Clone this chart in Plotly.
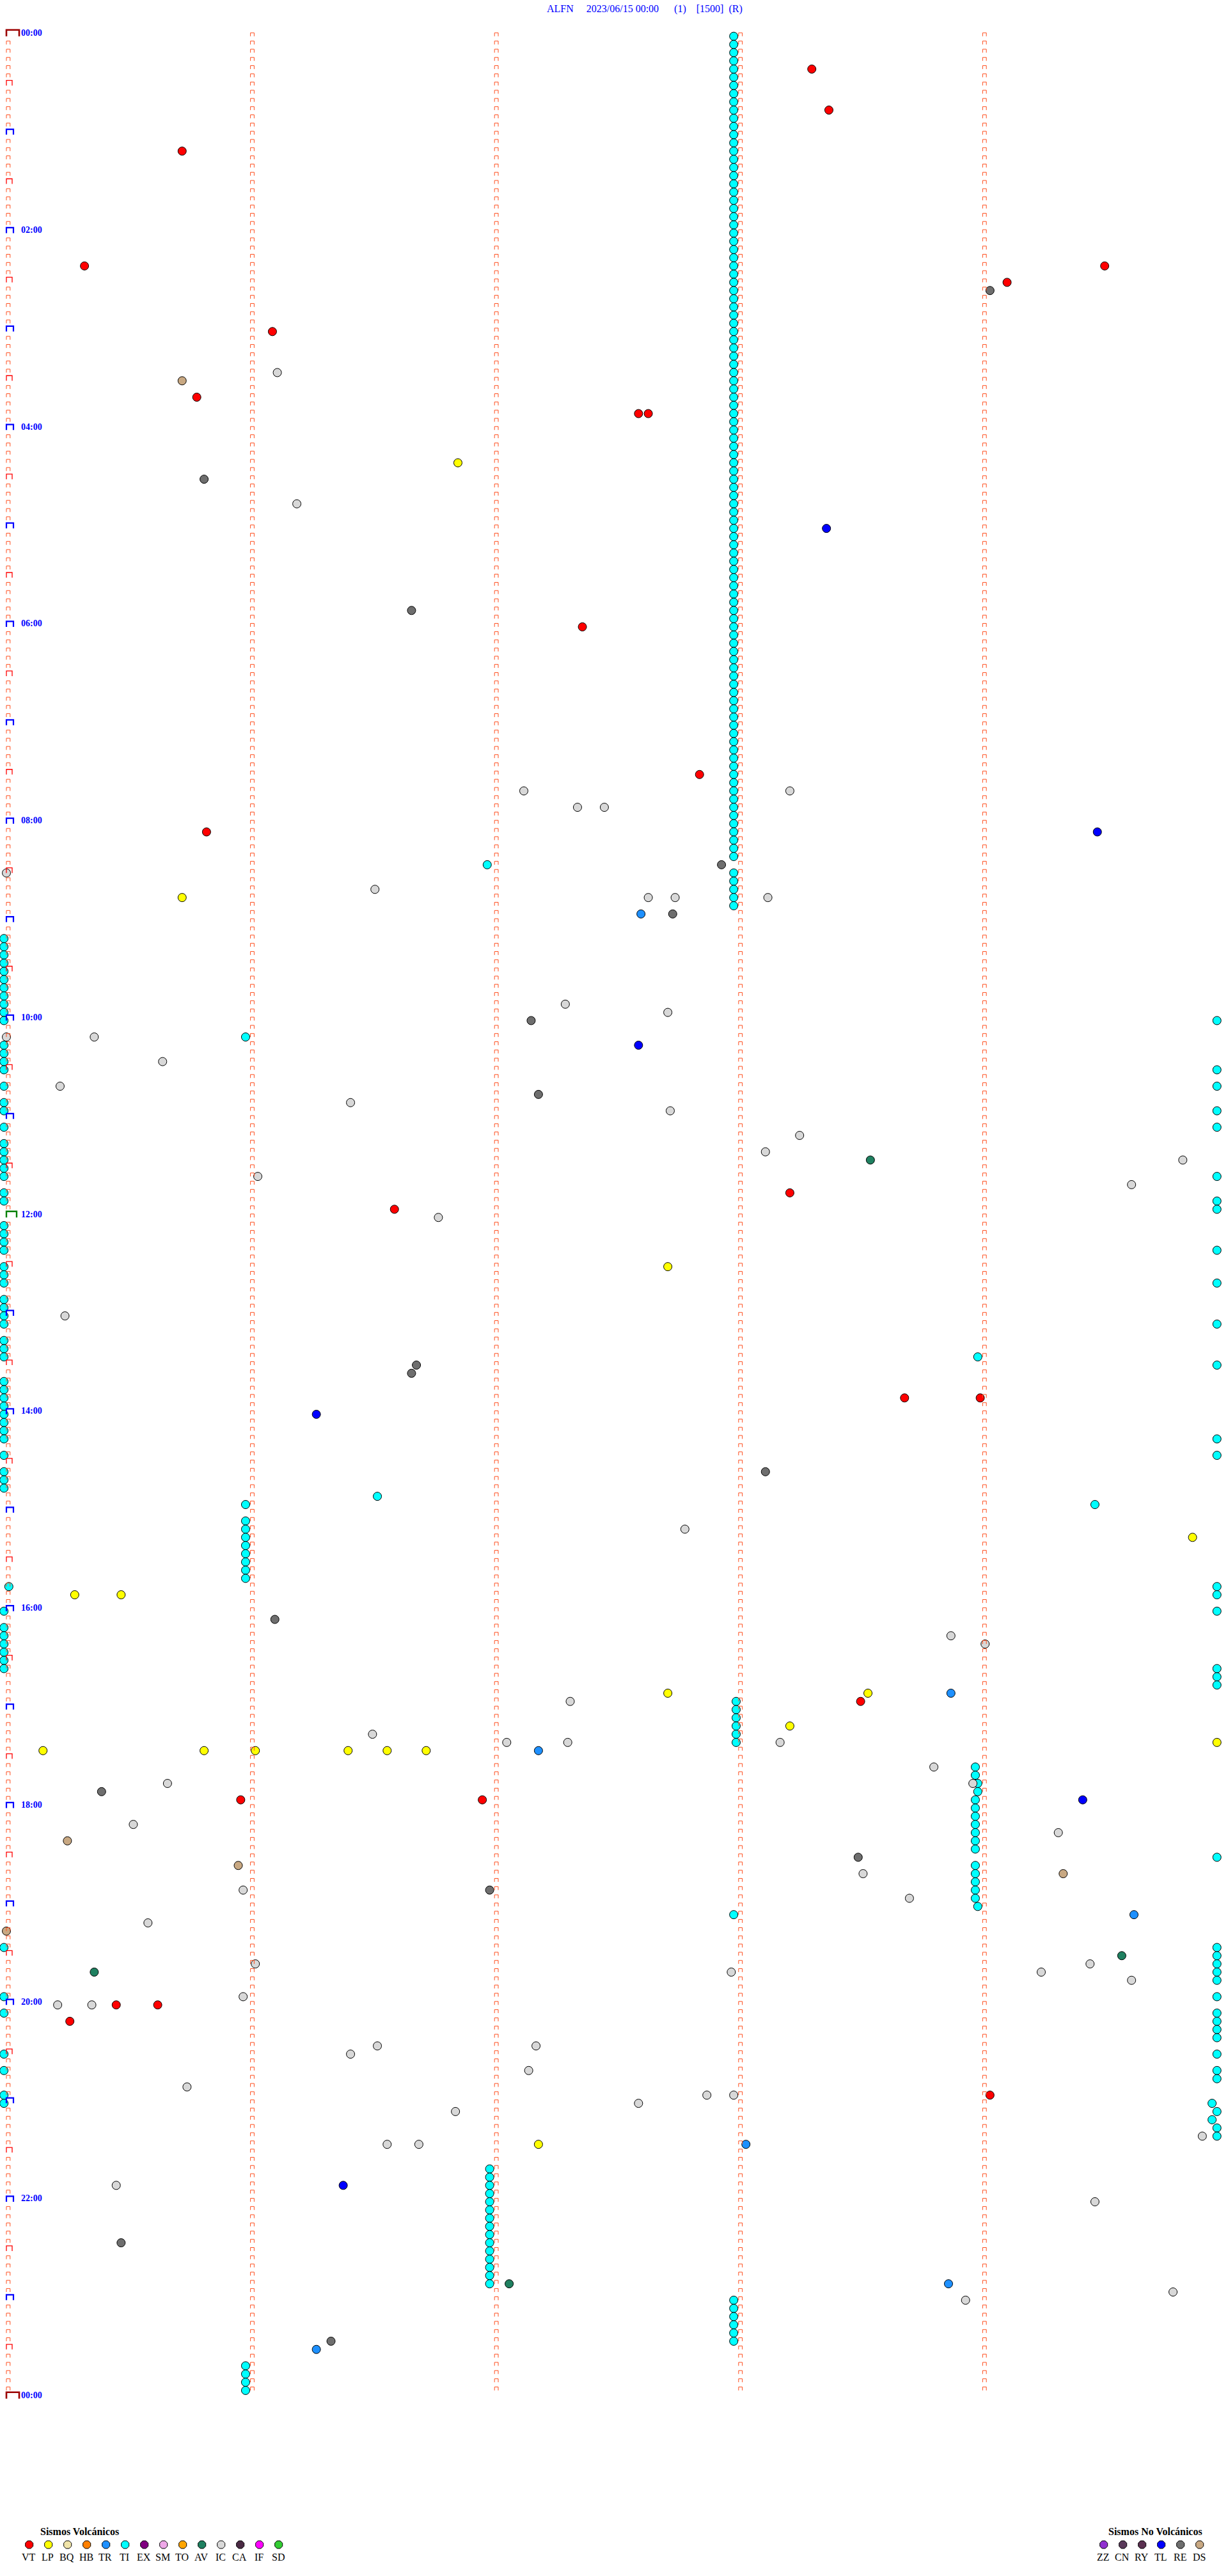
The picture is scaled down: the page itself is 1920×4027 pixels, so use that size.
import plotly.graph_objects as go

# ---------------- data (row = 5-minute line index from 00:00, minute = offset inside the line) ----------------
TITLE_PARTS = ["ALFN", "2023/06/15 00:00", "(1)", "[1500]", "(R)"]
TIME_LABELS = ["00:00", "02:00", "04:00", "06:00", "08:00", "10:00", "12:00",
               "14:00", "16:00", "18:00", "20:00", "22:00", "00:00"]
TIME_LABEL_ROWS = [0, 24, 48, 72, 96, 120, 144, 168, 192, 216, 240, 264, 288]

VOLC_TYPES = ["VT", "LP", "BQ", "HB", "TR", "TI", "EX", "SM", "TO", "AV", "IC", "CA", "IF", "SD"]
VOLC_COLORS = ["#FF0000", "#FFFF00", "#F0E4A8", "#FF8000", "#1E90FF", "#00FFFF", "#800080",
               "#EEA8E8", "#FFA500", "#1F8060", "#D8D8D8", "#4A2A44", "#FF00FF", "#33CC33"]
NOVOLC_TYPES = ["ZZ", "CN", "RY", "TL", "RE", "DS"]
NOVOLC_COLORS = ["#9030D0", "#5A3A5A", "#5A3050", "#0000FF", "#6E6E6E", "#C8A882"]

VT = [(4, 3.30), (9, 3.37), (14, 0.72), (28, 0.32), (28, 4.50), (30, 4.10), (36, 1.09), (44, 0.78),
      (46, 2.59), (46, 2.63), (72, 2.36), (90, 2.84), (97, 0.82), (141, 3.21), (143, 1.59),
      (166, 3.68), (166, 3.99), (203, 3.50), (215, 0.96), (215, 1.95), (240, 0.45), (240, 0.62),
      (242, 0.26), (251, 4.03)]

LP = [(52, 1.85), (105, 0.72), (150, 2.71), (183, 4.86), (190, 0.28), (190, 0.47), (202, 2.71),
      (202, 3.53), (206, 3.21), (208, 4.96), (209, 0.15), (209, 0.81), (209, 1.02), (209, 1.40),
      (209, 1.56), (209, 1.72), (257, 2.18)]

TR = [(107, 2.60), (202, 3.87), (209, 2.18), (229, 4.62), (257, 3.03), (274, 3.86), (282, 1.27)]

TI = [
    # tremor column near minute 3, 00:00 - 08:50
    (0, 2.98), (1, 2.98), (2, 2.98), (3, 2.98), (4, 2.98), (5, 2.98), (6, 2.98), (7, 2.98), (8, 2.98), (9, 2.98),
    (10, 2.98), (11, 2.98), (12, 2.98), (13, 2.98), (14, 2.98), (15, 2.98), (16, 2.98), (17, 2.98), (18, 2.98), (19, 2.98),
    (20, 2.98), (21, 2.98), (22, 2.98), (23, 2.98), (24, 2.98), (25, 2.98), (26, 2.98), (27, 2.98), (28, 2.98), (29, 2.98),
    (30, 2.98), (31, 2.98), (32, 2.98), (33, 2.98), (34, 2.98), (35, 2.98), (36, 2.98), (37, 2.98), (38, 2.98), (39, 2.98),
    (40, 2.98), (41, 2.98), (42, 2.98), (43, 2.98), (44, 2.98), (45, 2.98), (46, 2.98), (47, 2.98), (48, 2.98), (49, 2.98),
    (50, 2.98), (51, 2.98), (52, 2.98), (53, 2.98), (54, 2.98), (55, 2.98), (56, 2.98), (57, 2.98), (58, 2.98), (59, 2.98),
    (60, 2.98), (61, 2.98), (62, 2.98), (63, 2.98), (64, 2.98), (65, 2.98), (66, 2.98), (67, 2.98), (68, 2.98), (69, 2.98),
    (70, 2.98), (71, 2.98), (72, 2.98), (73, 2.98), (74, 2.98), (75, 2.98), (76, 2.98), (77, 2.98), (78, 2.98), (79, 2.98),
    (80, 2.98), (81, 2.98), (82, 2.98), (83, 2.98), (84, 2.98), (85, 2.98), (86, 2.98), (87, 2.98), (88, 2.98), (89, 2.98),
    (90, 2.98), (91, 2.98), (92, 2.98), (93, 2.98), (94, 2.98), (95, 2.98), (96, 2.98), (97, 2.98), (98, 2.98), (99, 2.98),
    (100, 2.98), (102, 2.98), (103, 2.98), (104, 2.98), (105, 2.98), (106, 2.98),
    (101, 1.97),
    # left edge
    (110, -0.01), (111, -0.01), (112, -0.01), (113, -0.01), (114, -0.01), (115, -0.01), (116, -0.01),
    (117, -0.01), (118, -0.01), (119, -0.01), (120, -0.01), (123, -0.01), (124, -0.01), (125, -0.01),
    (126, -0.01), (128, -0.01), (130, -0.01), (131, -0.01), (133, -0.01), (135, -0.01), (136, -0.01),
    (137, -0.01), (138, -0.01), (139, -0.01), (141, -0.01), (142, -0.01), (145, -0.01), (146, -0.01),
    (147, -0.01), (148, -0.01), (150, -0.01), (151, -0.01), (152, -0.01), (154, -0.01), (155, -0.01),
    (156, -0.01), (157, -0.01), (159, -0.01), (160, -0.01), (161, -0.01), (164, -0.01), (165, -0.01),
    (166, -0.01), (167, -0.01), (168, -0.01), (169, -0.01), (170, -0.01), (171, -0.01), (173, -0.01),
    (175, -0.01), (176, -0.01), (177, -0.01), (189, 0.01), (192, -0.01), (194, -0.01), (195, -0.01),
    (196, -0.01), (197, -0.01), (198, -0.01), (199, -0.01), (233, -0.01), (239, -0.01), (241, -0.01),
    (246, -0.01), (248, -0.01), (251, -0.01), (252, -0.01),
    # right edge
    (120, 4.96), (126, 4.96), (128, 4.96), (131, 4.96), (133, 4.96), (139, 4.96), (142, 4.96), (143, 4.96),
    (148, 4.96), (152, 4.96), (157, 4.96), (162, 4.96), (171, 4.96), (173, 4.96), (189, 4.96), (190, 4.96),
    (192, 4.96), (199, 4.96), (200, 4.96), (201, 4.96), (222, 4.96), (233, 4.96), (234, 4.96), (235, 4.96),
    (236, 4.96), (237, 4.96), (239, 4.96), (241, 4.96), (242, 4.96), (243, 4.96), (244, 4.96), (246, 4.96),
    (248, 4.96), (249, 4.96), (252, 4.94), (253, 4.96), (254, 4.94), (255, 4.96), (256, 4.96),
    # other episodes
    (122, 0.98), (161, 3.98), (178, 1.52), (179, 4.46), (179, 0.98), (181, 0.98), (182, 0.98), (183, 0.98),
    (184, 0.98), (185, 0.98), (186, 0.98), (187, 0.98), (188, 0.98),
    (203, 2.99), (204, 2.99), (205, 2.99), (206, 2.99), (207, 2.99), (208, 2.99),
    (211, 3.97), (212, 3.97), (213, 3.98), (214, 3.98), (215, 3.97), (216, 3.97), (217, 3.97), (218, 3.97),
    (219, 3.97), (220, 3.97), (221, 3.97), (223, 3.97), (224, 3.97), (225, 3.97), (226, 3.97), (227, 3.97),
    (228, 3.98), (229, 2.98),
    (260, 1.98), (261, 1.98), (262, 1.98), (263, 1.98), (264, 1.98), (265, 1.98), (266, 1.98), (267, 1.98),
    (268, 1.98), (269, 1.98), (270, 1.98), (271, 1.98), (272, 1.98), (273, 1.98), (274, 1.98),
    (276, 2.98), (277, 2.98), (278, 2.98), (279, 2.98), (280, 2.98), (281, 2.98),
    (284, 0.98), (285, 0.98), (286, 0.98), (287, 0.98),
]

AV = [(137, 3.54), (234, 4.57), (236, 0.36), (274, 2.06)]

IC = [(41, 1.11), (57, 1.19), (92, 2.12), (92, 3.21), (94, 2.34), (94, 2.45), (102, 0.00), (104, 1.51),
      (105, 2.63), (105, 2.74), (105, 3.12), (118, 2.29), (119, 2.71), (122, 0.00), (122, 0.36),
      (125, 0.64), (128, 0.22), (130, 1.41), (131, 2.72), (134, 3.25), (136, 3.11), (137, 4.82),
      (139, 1.03), (140, 4.61), (144, 1.77), (156, 0.24), (182, 2.78), (195, 3.87), (196, 4.01),
      (203, 2.31), (207, 1.50), (208, 2.05), (208, 2.30), (208, 3.17), (211, 3.80), (213, 0.66),
      (213, 3.96), (218, 0.52), (219, 4.31), (224, 3.51), (226, 0.97), (227, 3.70), (230, 0.58),
      (235, 1.02), (235, 4.44), (236, 2.97), (236, 4.24), (237, 4.61), (239, 0.97), (240, 0.21),
      (240, 0.35), (245, 1.52), (245, 2.17), (246, 1.41), (248, 2.14), (250, 0.74), (251, 2.87),
      (251, 2.98), (252, 2.59), (253, 1.84), (256, 4.90), (257, 1.56), (257, 1.69), (262, 0.45),
      (264, 4.46), (275, 4.78), (276, 3.93)]

RE = [(31, 4.03), (54, 0.81), (70, 1.66), (101, 2.93), (107, 2.73), (120, 2.15), (129, 2.18),
      (162, 1.68), (163, 1.66), (175, 3.11), (193, 1.10), (214, 0.39), (222, 3.49), (226, 1.98),
      (269, 0.47), (281, 1.33)]

TL = [(60, 3.36), (97, 4.47), (123, 2.59), (168, 1.27), (215, 4.41), (262, 1.38)]

DS = [(42, 0.72), (220, 0.25), (223, 0.95), (224, 4.33), (231, 0.00)]

EVENTS = [("TI", TI), ("VT", VT), ("LP", LP), ("TR", TR), ("AV", AV), ("IC", IC),
          ("RE", RE), ("TL", TL), ("DS", DS)]

# ---------------- geometry / style ----------------
W, H = 1920, 4027
PX_PER_MIN = 381.6
PX_PER_ROW = 12.823
X0_PX = 10.0
Y0_PX = 56.7
N_ROWS = 288
SERIF = "Liberation Serif, Times New Roman, serif"

color_of = dict(zip(VOLC_TYPES + NOVOLC_TYPES, VOLC_COLORS + NOVOLC_COLORS))

fig = go.Figure()

# event circles
for name, evs in EVENTS:
    fig.add_trace(go.Scatter(
        x=[m for r, m in evs], y=[r for r, m in evs], mode="markers",
        marker=dict(symbol="circle", size=13, color=color_of[name],
                    line=dict(color="#000000", width=1)),
        hoverinfo="skip", showlegend=False))


def bracket_path(cells, wpx, hpx):
    xs, ys = [], []
    for c, r in cells:
        x0 = c
        x1 = c + wpx / PX_PER_MIN
        yt = r - hpx / PX_PER_ROW
        xs += [x0, x0, x1, x1, None]
        ys += [r, yt, yt, r, None]
    return xs, ys


small = [(c, r) for r in range(N_ROWS) for c in range(5) if not (c == 0 and r % 6 == 0)]
half = [(0, r) for r in range(6, N_ROWS, 12)]
hour = [(0, r) for r in range(12, N_ROWS, 12) if r != 144]
noon = [(0, 144)]
day = [(0, 0), (0, N_ROWS)]

for cells, wpx, hpx, col, lw in [
    (small, 5.8, 5.4, "#FF4F1F", 1.0),
    (half, 9.0, 8.0, "#FF0000", 1.3),
    (hour, 11.0, 8.5, "#0000FF", 2.2),
    (noon, 16.0, 9.5, "#008000", 2.4),
    (day, 20.0, 10.0, "#9B0000", 2.6),
]:
    xs, ys = bracket_path(cells, wpx, hpx)
    fig.add_trace(go.Scatter(x=xs, y=ys, mode="lines",
                             line=dict(color=col, width=lw),
                             hoverinfo="skip", showlegend=False))

annotations = []
# time labels
for lab, r in zip(TIME_LABELS, TIME_LABEL_ROWS):
    annotations.append(dict(
        x=(31.0 - X0_PX) / PX_PER_MIN, y=r, xref="x", yref="y", yshift=5,
        text=lab, showarrow=False, xanchor="left", yanchor="middle",
        font=dict(family=SERIF, size=14, color="#0000FF", weight="bold")))

# title
NB = "\u00a0"
title_text = (TITLE_PARTS[0] + NB * 5 + TITLE_PARTS[1].replace(" ", NB) + NB * 6 +
              TITLE_PARTS[2] + NB * 4 + TITLE_PARTS[3] + NB * 2 + TITLE_PARTS[4])
annotations.append(dict(x=853, y=13.5, xref="x2", yref="y2", text=title_text,
                        showarrow=False, xanchor="left", yanchor="middle",
                        font=dict(family=SERIF, size=16, color="#0000FF")))

# legend blocks (drawn in page-pixel overlay axes)
LEG_MARK_Y = 3978
LEG_LABEL_Y = 3997
LEG_HEAD_Y = 3957
LEG_STEP = 30


def legend_block(types, colors, x_start, header, header_x):
    xs = [x_start + LEG_STEP * i for i in range(len(types))]
    fig.add_trace(go.Scatter(
        x=xs, y=[LEG_MARK_Y] * len(xs), xaxis="x2", yaxis="y2", mode="markers",
        marker=dict(symbol="octagon", size=13, color=colors, line=dict(color="#000000", width=1)),
        hoverinfo="skip", showlegend=False))
    for t, x in zip(types, xs):
        annotations.append(dict(x=x - 1, y=LEG_LABEL_Y, xref="x2", yref="y2", text=t,
                                showarrow=False, xanchor="center", yanchor="middle",
                                font=dict(family=SERIF, size=16, color="#000000")))
    annotations.append(dict(x=header_x, y=LEG_HEAD_Y, xref="x2", yref="y2", text=header,
                            showarrow=False, xanchor="center", yanchor="middle",
                            font=dict(family=SERIF, size=16, color="#000000", weight="bold")))


legend_block(VOLC_TYPES, VOLC_COLORS, 45.7, "Sismos Volcánicos", 124)
legend_block(NOVOLC_TYPES, NOVOLC_COLORS, 1725.7, "Sismos No Volcánicos", 1806)

fig.update_layout(
    width=W, height=H, autosize=False,
    margin=dict(l=0, r=0, t=0, b=0, pad=0),
    paper_bgcolor="#FFFFFF", plot_bgcolor="#FFFFFF",
    showlegend=False,
    xaxis=dict(range=[-X0_PX / PX_PER_MIN, (W - X0_PX) / PX_PER_MIN], visible=False,
               fixedrange=True, domain=[0, 1]),
    yaxis=dict(range=[(H - Y0_PX) / PX_PER_ROW, -Y0_PX / PX_PER_ROW], visible=False,
               fixedrange=True, domain=[0, 1]),
    xaxis2=dict(range=[0, W], overlaying="x", anchor="y2", visible=False, fixedrange=True),
    yaxis2=dict(range=[H, 0], overlaying="y", anchor="x2", visible=False, fixedrange=True),
    annotations=annotations,
)

fig.write_html("out.html", config={"displayModeBar": False},
               post_script="document.body.style.margin='0px';document.body.style.overflow='hidden';")
